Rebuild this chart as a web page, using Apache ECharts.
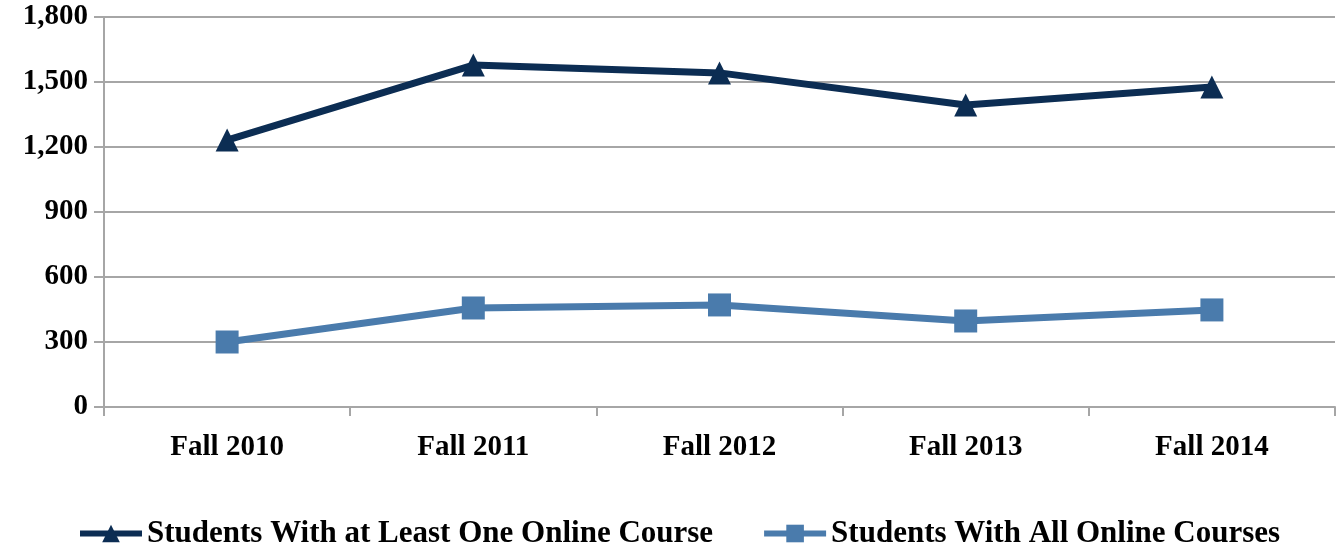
<!DOCTYPE html>
<html>
<head>
<meta charset="utf-8">
<script src="https://cdn.jsdelivr.net/npm/echarts@6/dist/echarts.min.js"></script>
<style>
  html, body { margin: 0; padding: 0; background: #fff; }
  #chart-container { width: 1336px; height: 543px; }
</style>
</head>
<body>
<div id="chart-container"></div>
<script>
var categories = ["Fall 2010", "Fall 2011", "Fall 2012", "Fall 2013", "Fall 2014"];
var atLeastOne = [1232, 1578, 1542, 1394, 1477];
var allOnline = [300, 457, 471, 397, 448];
var seriesNames = ["Students With at Least One Online Course", "Students With All Online Courses"];

var dom = document.getElementById("chart-container");
var myChart = echarts.init(dom, null, {
  renderer: "canvas",
  useDirtyRect: false,
});

var fontFamily = "'Liberation Serif', 'DejaVu Serif', serif";

var option = {
  animation: false,
  textStyle: { fontFamily: fontFamily },
  grid: {
    left: 104,
    right: 1,
    top: 17,
    bottom: 136,
  },
  legend: {
    top: 513,
    left: 72,
    itemWidth: 62,
    itemHeight: 22,
    itemGap: 48,
    lineStyle: { width: 6 },
    textStyle: {
      fontFamily: fontFamily,
      fontSize: 31,
      fontWeight: "bold",
      color: "#000",
    },
    data: seriesNames,
  },
  xAxis: {
    type: "category",
    data: categories,
    boundaryGap: true,
    axisLine: { lineStyle: { color: "#A6A6A6", width: 2 } },
    axisTick: { show: true, length: 9, lineStyle: { color: "#A6A6A6", width: 2 } },
    axisLabel: {
      margin: 26,
      fontFamily: fontFamily,
      fontSize: 29,
      fontWeight: "bold",
      color: "#000",
    },
  },
  yAxis: {
    type: "value",
    min: 0,
    max: 1800,
    interval: 300,
    axisLine: { show: true, lineStyle: { color: "#A6A6A6", width: 2 } },
    axisTick: { show: true, length: 10, lineStyle: { color: "#A6A6A6", width: 2 } },
    splitLine: { lineStyle: { color: "#A6A6A6", width: 2 } },
    axisLabel: {
      margin: 16,
      fontFamily: fontFamily,
      fontSize: 29,
      fontWeight: "bold",
      color: "#000",
      formatter: function (v) {
        return v.toString().replace(/\B(?=(\d{3})+(?!\d))/g, ",");
      },
    },
  },
  series: [
    {
      name: seriesNames[0],
      type: "line",
      data: atLeastOne,
      symbol: "triangle",
      symbolSize: 23,
      lineStyle: { color: "#0C2D53", width: 7 },
      itemStyle: { color: "#0C2D53" },
    },
    {
      name: seriesNames[1],
      type: "line",
      data: allOnline,
      symbol: "rect",
      symbolSize: 23,
      lineStyle: { color: "#4A7BAC", width: 7 },
      itemStyle: { color: "#4A7BAC" },
    },
  ],
};

if (option && typeof option === "object") {
  myChart.setOption(option);
}
window.addEventListener("resize", myChart.resize);
</script>
</body>
</html>
